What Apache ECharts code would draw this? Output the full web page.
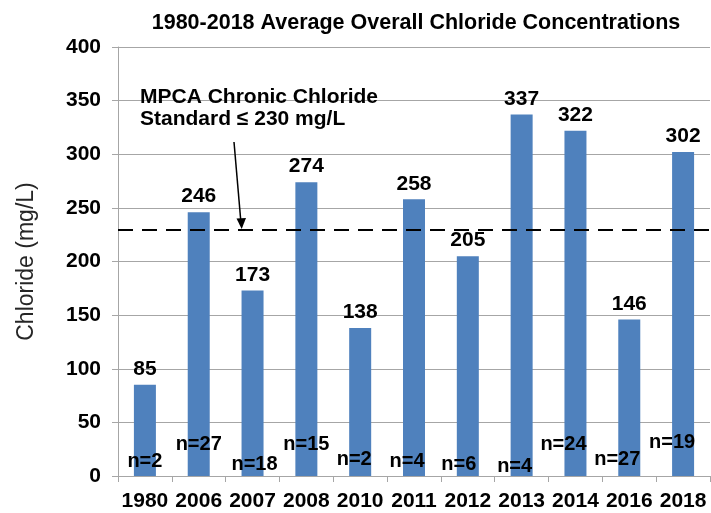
<!DOCTYPE html>
<html>
<head>
<meta charset="utf-8">
<script src="https://cdn.jsdelivr.net/npm/echarts@6/dist/echarts.min.js"></script>
<style>
  html, body { margin: 0; padding: 0; background: #fff; }
  #chart { width: 711px; height: 513px; }
</style>
</head>
<body>
<div id="chart"></div>
<script>
const years = ['1980', '2006', '2007', '2008', '2010', '2011', '2012', '2013', '2014', '2016', '2018']
const chloride = [85, 246, 173, 274, 138, 258, 205, 337, 322, 146, 302]
const sampleCounts = [2, 27, 18, 15, 2, 4, 6, 4, 24, 27, 19]
// height (in mg/L) at which each n= label sits
const nLabelLevel = [13.5, 29, 11, 29, 15, 13.5, 11, 9, 29, 15.5, 31]
// sideways nudge (px) of each n= label
const nLabelNudge = [0, 0, 2, 0, -6, -7, -9, -7, -12, -12, -11]
const yTicks = { min: 0, max: 400, interval: 50 }
const chronicStandard = 230

const chart = echarts.init(document.getElementById('chart'))
const font = 'Liberation Sans, Arial, sans-serif'

const option = {
  backgroundColor: '#fff',
  animation: false,
  title: {
    text: '1980-2018 Average Overall Chloride Concentrations',
    left: 411,
    textAlign: 'center',
    top: 7,
    textStyle: { fontFamily: font, fontWeight: 'bold', fontSize: 21.5, color: '#000' }
  },
  grid: { left: 118, right: 1, top: 47, bottom: 37 },
  xAxis: {
    type: 'category',
    data: years,
    axisLine: { lineStyle: { color: '#a6a6a6' } },
    axisTick: { show: true, length: 6, lineStyle: { color: '#a6a6a6' } },
    axisLabel: {
      interval: 0,
      fontFamily: font,
      fontWeight: 'bold',
      fontSize: 21,
      color: '#000',
      margin: 15
    }
  },
  yAxis: {
    type: 'value',
    min: yTicks.min,
    max: yTicks.max,
    interval: yTicks.interval,
    name: 'Chloride (mg/L)',
    nameLocation: 'middle',
    nameGap: 80,
    nameTextStyle: { fontFamily: font, fontSize: 23, color: '#262626' },
    axisLine: { show: true, lineStyle: { color: '#a6a6a6' } },
    axisTick: { show: true, length: 6, lineStyle: { color: '#a6a6a6' } },
    axisLabel: { fontFamily: font, fontWeight: 'bold', fontSize: 21, color: '#000', margin: 17 },
    splitLine: { lineStyle: { color: '#a6a6a6' } }
  },
  series: [
    {
      type: 'bar',
      data: chloride,
      barWidth: 22,
      itemStyle: { color: '#4f81bd' },
      label: {
        show: true,
        position: 'top',
        distance: 5,
        fontFamily: font,
        fontWeight: 'bold',
        fontSize: 21,
        color: '#000'
      },
      markLine: {
        silent: true,
        symbol: 'none',
        label: { show: false },
        lineStyle: { color: '#000', type: [15, 9], width: 2 },
        data: [{ yAxis: chronicStandard }]
      },
      z: 2
    },
    {
      type: 'scatter',
      symbolSize: 0,
      itemStyle: { opacity: 1, color: '#000' },
      data: nLabelLevel.map((lvl, i) => ({
        value: [i, lvl],
        label: { offset: [nLabelNudge[i], 0] }
      })),
      label: {
        show: true,
        position: 'inside',
        formatter: p => 'n=' + sampleCounts[p.dataIndex],
        fontFamily: font,
        fontWeight: 'bold',
        fontSize: 20,
        color: '#000',
        textBorderWidth: 0,
        opacity: 1
      },
      z: 5
    }
  ],
  graphic: [
    {
      type: 'text',
      left: 140,
      top: 86,
      style: {
        text: 'MPCA Chronic Chloride\nStandard ≤ 230 mg/L',
        fontFamily: font,
        fontWeight: 'bold',
        fontSize: 21,
        lineHeight: 22,
        fill: '#000'
      },
      z: 10
    },
    {
      type: 'line',
      shape: { x1: 234, y1: 142, x2: 240.8, y2: 221 },
      style: { stroke: '#000', lineWidth: 1.5 },
      z: 10
    },
    {
      type: 'polygon',
      shape: { points: [[241.7, 229], [236.5, 218.5], [246, 218]] },
      style: { fill: '#000' },
      z: 10
    }
  ]
}

chart.setOption(option)
</script>
</body>
</html>
